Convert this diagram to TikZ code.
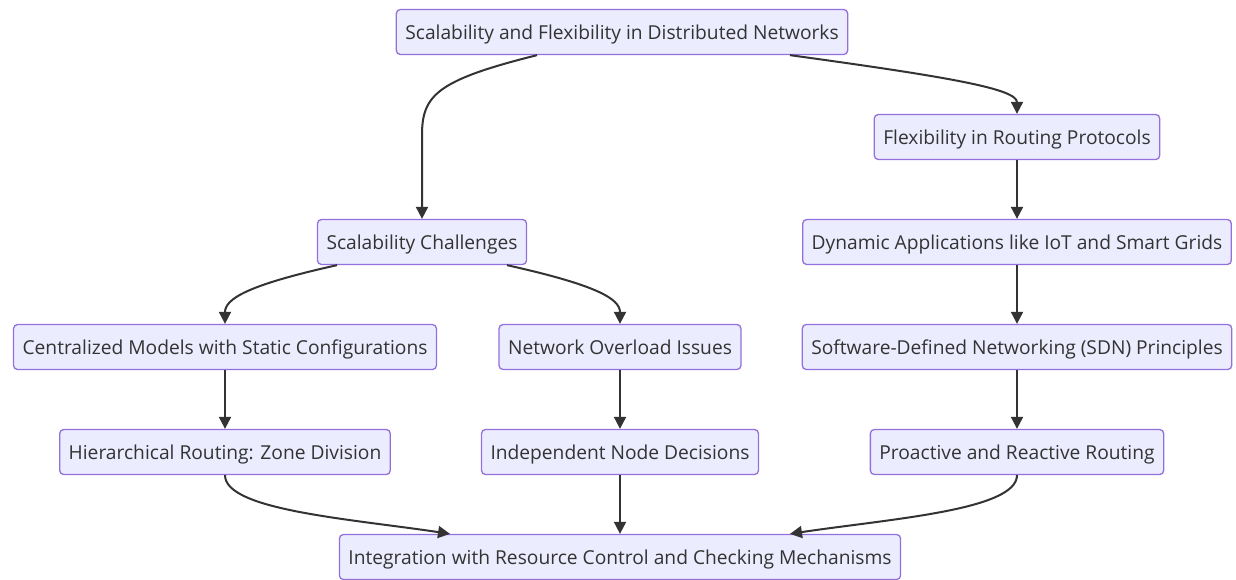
\documentclass[tikz,border=0pt]{standalone}
\usepackage{fontspec}
\setmainfont{Open Sans}
\usetikzlibrary{arrows.meta}
\definecolor{boxfill}{HTML}{ECECFF}
\definecolor{boxline}{HTML}{9370DB}
\definecolor{ink}{HTML}{333333}
\tikzset{
  box/.style={draw=boxline, fill=boxfill, line width=1.3pt, rounded corners=4pt,
    minimum height=45pt, inner xsep=9pt, text height=16pt, text depth=2pt, text=ink,
    font=\fontsize{19.2pt}{23pt}\selectfont},
  arr/.style={draw=ink, line width=2pt, -{Triangle[length=12pt,width=12pt]}}
}
\begin{document}
\begin{tikzpicture}[x=1pt,y=-1pt]
\useasboundingbox (0,0) rectangle (1236,579);
\node[box] (top) at (622,32) {Scalability and Flexibility in Distributed Networks};
\node[box] (fl)  at (1017,137) {Flexibility in Routing Protocols};
\node[box] (sc)  at (422,242) {Scalability Challenges};
\node[box] (dy)  at (1017,242) {Dynamic Applications like IoT and Smart Grids};
\node[box] (cm)  at (225,347) {Centralized Models with Static Configurations};
\node[box] (no)  at (620,347) {Network Overload Issues};
\node[box] (sdn) at (1017,347) {Software-Defined Networking (SDN) Principles};
\node[box] (hr)  at (225,452) {Hierarchical Routing: Zone Division};
\node[box] (ind) at (620,452) {Independent Node Decisions};
\node[box] (pr)  at (1017,452) {Proactive and Reactive Routing};
\node[box] (int) at (620,557) {Integration with Resource Control and Checking Mechanisms};

\draw[arr] ([xshift=-85pt]top.south) .. controls +(-100,25) and +(0,-40) .. ++(-115,80) -- (sc.north);
\draw[arr] ([xshift=168pt]top.south) .. controls +(160,22) and +(0,-25) .. (fl.north);
\draw[arr] (fl) -- (dy);
\draw[arr] (dy) -- (sdn);
\draw[arr] (sdn) -- (pr);
\draw[arr] ([xshift=-85pt]sc.south) .. controls +(-90,20) and +(0,-25) .. (cm.north);
\draw[arr] ([xshift=85pt]sc.south) .. controls +(90,20) and +(0,-25) .. (no.north);
\draw[arr] (cm) -- (hr);
\draw[arr] (no) -- (ind);
\draw[arr] (ind) -- (int);
\draw[arr] (hr.south) .. controls +(0,35) and +(-100,-15) .. ([xshift=-170pt]int.north);
\draw[arr] (pr.south) .. controls +(0,35) and +(100,-15) .. ([xshift=170pt]int.north);
\end{tikzpicture}
\end{document}
